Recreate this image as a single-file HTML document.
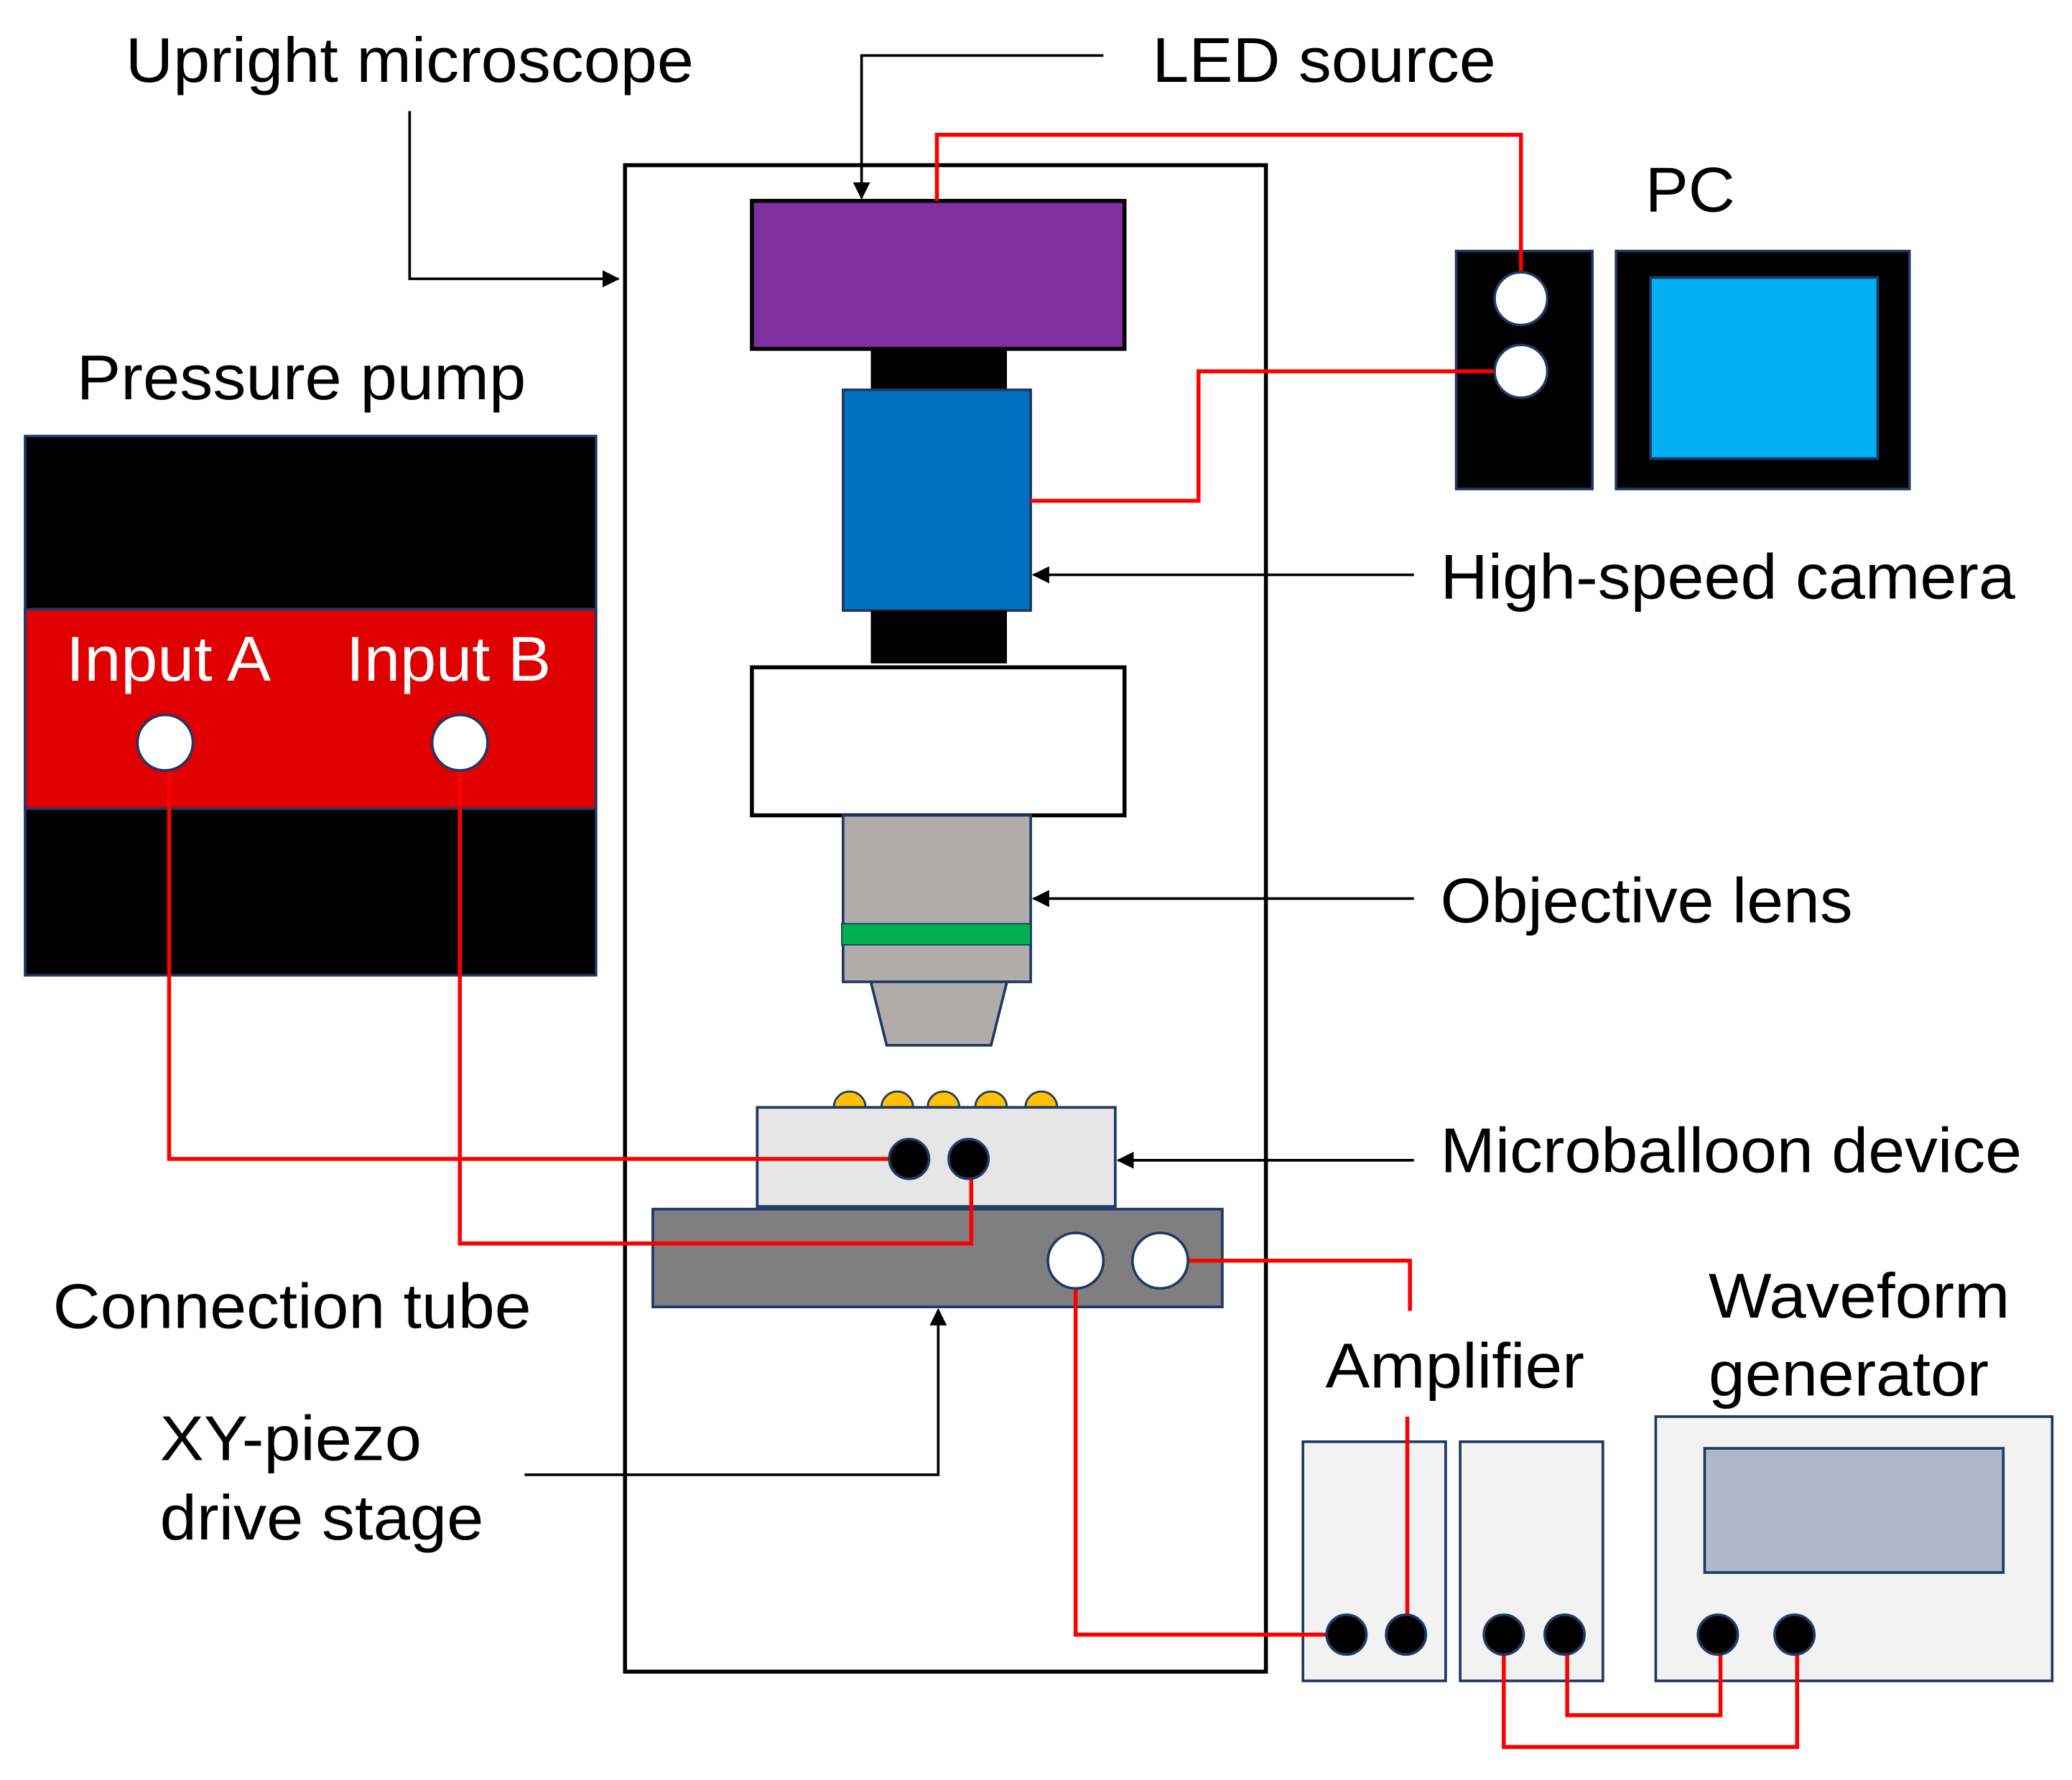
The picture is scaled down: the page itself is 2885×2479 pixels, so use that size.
<!DOCTYPE html>
<html><head><style>html,body{margin:0;padding:0;background:#fff}svg{display:block}</style></head>
<body>
<svg width="2885" height="2479" viewBox="0 0 1568 1347" preserveAspectRatio="none" xmlns="http://www.w3.org/2000/svg">
<defs>
<marker id="ar" markerWidth="13" markerHeight="13" refX="12" refY="6.5" orient="auto" markerUnits="userSpaceOnUse"><path d="M0,0 L13,6.5 L0,13 z" fill="#000"/></marker>
</defs>
<rect width="1568" height="1347" fill="#fff"/>
<g font-family="Liberation Sans, sans-serif" font-size="48" fill="#000" lengthAdjust="spacingAndGlyphs">
<text x="95" y="62" textLength="430" lengthAdjust="spacingAndGlyphs">Upright microscope</text>
<text x="872" y="62" textLength="260" lengthAdjust="spacingAndGlyphs">LED source</text>
<text x="1245" y="160" textLength="68" lengthAdjust="spacingAndGlyphs">PC</text>
<text x="58" y="302" textLength="340" lengthAdjust="spacingAndGlyphs">Pressure pump</text>
<text x="1090" y="453" textLength="435" lengthAdjust="spacingAndGlyphs">High-speed camera</text>
<text x="1090" y="698" textLength="312" lengthAdjust="spacingAndGlyphs">Objective lens</text>
<text x="1090" y="887" textLength="440" lengthAdjust="spacingAndGlyphs">Microballoon device</text>
<text x="40" y="1005" textLength="362" lengthAdjust="spacingAndGlyphs">Connection tube</text>
<text x="1293" y="997" textLength="228" lengthAdjust="spacingAndGlyphs">Waveform</text>
<text x="1293" y="1056" textLength="212" lengthAdjust="spacingAndGlyphs">generator</text>
<text x="1003" y="1050" textLength="196" lengthAdjust="spacingAndGlyphs">Amplifier</text>
<text x="121" y="1105" textLength="198" lengthAdjust="spacingAndGlyphs">XY-piezo</text>
<text x="121" y="1165" textLength="245" lengthAdjust="spacingAndGlyphs">drive stage</text>
</g>
<rect x="473" y="125" width="485" height="1140" fill="none" stroke="#000" stroke-width="3"/>
<rect x="569" y="152" width="282" height="112" fill="#7F2FA0" stroke="#000" stroke-width="3"/>
<rect x="659" y="264" width="103" height="32" fill="#000"/>
<rect x="638" y="295" width="142" height="167" fill="#0070C0" stroke="#1F3864" stroke-width="2"/>
<rect x="659" y="462" width="103" height="40" fill="#000"/>
<rect x="569" y="505" width="282" height="112" fill="#fff" stroke="#000" stroke-width="3"/>
<rect x="638" y="617" width="142" height="126" fill="#B0ACAA" stroke="#1F3864" stroke-width="2"/>
<rect x="637" y="699" width="143" height="16" fill="#00B050" stroke="#1F3864" stroke-width="1"/>
<path d="M659,743 L762,743 L750,791 L671,791 Z" fill="#B0ACAA" stroke="#1F3864" stroke-width="2"/>
<g fill="#FFC000" stroke="#1F3864" stroke-width="1.5">
<path d="M631,838 a12,12 0 0 1 24,0 z"/><path d="M667,838 a12,12 0 0 1 24,0 z"/><path d="M702,838 a12,12 0 0 1 24,0 z"/><path d="M738,838 a12,12 0 0 1 24,0 z"/><path d="M776,838 a12,12 0 0 1 24,0 z"/>
</g>
<rect x="573" y="838" width="271" height="75" fill="#E7E6E6" stroke="#1F3864" stroke-width="2"/>
<rect x="494" y="915" width="431" height="74" fill="#7F7F7F" stroke="#1F3864" stroke-width="2"/>
<rect x="19" y="330" width="432" height="408" fill="#000" stroke="#1F3864" stroke-width="2"/>
<rect x="19" y="461" width="432" height="151" fill="#E00000" stroke="#1F3864" stroke-width="2"/>
<g font-family="Liberation Sans, sans-serif" font-size="48" fill="#fff">
<text x="50" y="515" textLength="155" lengthAdjust="spacingAndGlyphs">Input A</text>
<text x="262" y="515" textLength="155" lengthAdjust="spacingAndGlyphs">Input B</text>
</g>
<rect x="1102" y="190" width="103" height="180" fill="#000" stroke="#1F3864" stroke-width="2"/>
<rect x="1223" y="190" width="222" height="180" fill="#000" stroke="#1F3864" stroke-width="2"/>
<rect x="1249" y="210" width="172" height="137" fill="#00B0F0" stroke="#1F3864" stroke-width="2"/>
<rect x="986" y="1091" width="108" height="181" fill="#F2F2F2" stroke="#1F3864" stroke-width="2"/>
<rect x="1105" y="1091" width="108" height="181" fill="#F2F2F2" stroke="#1F3864" stroke-width="2"/>
<rect x="1253" y="1072" width="300" height="200" fill="#F2F2F2" stroke="#1F3864" stroke-width="2"/>
<rect x="1290" y="1096" width="226" height="94" fill="#ADB9CA" stroke="#1F3864" stroke-width="2"/>
<g fill="none" stroke="#FF0000" stroke-width="3">
<path d="M709,152 V102 H1151 V206"/>
<path d="M780,379 H907 V281 H1131"/>
<path d="M128,583 V877 H673"/>
<path d="M348,583 V941 H735 V892"/>
<path d="M814,975 V1237 H1004"/>
<path d="M899,954 H1067 V992"/>
<path d="M1065,1072 V1222"/>
<path d="M1138,1252 V1322 H1360 V1252"/>
<path d="M1186,1252 V1298 H1302 V1252"/>
</g>
<g stroke="#1F3864" stroke-width="2">
<circle cx="125" cy="562" r="21" fill="#fff"/><circle cx="348" cy="562" r="21" fill="#fff"/>
<circle cx="1151" cy="226" r="20" fill="#fff"/><circle cx="1151" cy="281" r="20" fill="#fff"/>
<circle cx="814" cy="954" r="21" fill="#fff"/><circle cx="878" cy="954" r="21" fill="#fff"/>
<circle cx="688" cy="877" r="15" fill="#000"/><circle cx="733" cy="877" r="15" fill="#000"/>
<circle cx="1019" cy="1237" r="15" fill="#000"/><circle cx="1064" cy="1237" r="15" fill="#000"/>
<circle cx="1138" cy="1237" r="15" fill="#000"/><circle cx="1184" cy="1237" r="15" fill="#000"/>
<circle cx="1300" cy="1237" r="15" fill="#000"/><circle cx="1358" cy="1237" r="15" fill="#000"/>
</g>
<g fill="none" stroke="#000" stroke-width="2" marker-end="url(#ar)">
<path d="M835,42 H652 V150"/>
<path d="M310,84 V211 H468"/>
<path d="M1070,435 H782"/>
<path d="M1070,680 H782"/>
<path d="M1070,878 H846"/>
<path d="M397,1116 H710 V991"/>
</g>
</svg>
</body></html>
